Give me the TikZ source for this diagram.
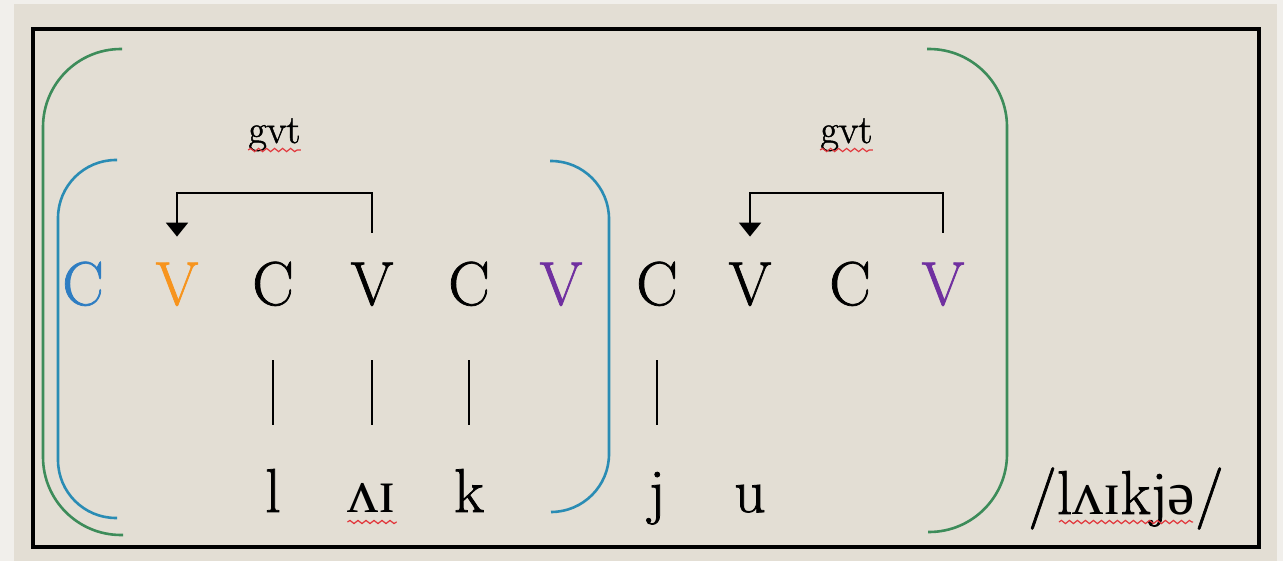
\documentclass[tikz,border=0pt]{standalone}
\usepackage{fontspec}
\newfontfamily\segfont{Latin Modern Roman}[FakeBold=1.2]
\newfontfamily\ipafont{Liberation Serif}
\usetikzlibrary{calc}
\usetikzlibrary{arrows.meta}
\usetikzlibrary{decorations.pathmorphing}
\usepackage{xcolor}
\definecolor{paper}{RGB}{227,222,212}
\definecolor{rim}{RGB}{241,239,235}
\definecolor{sylgreen}{RGB}{61,140,90}
\definecolor{sylblue}{RGB}{42,140,180}
\definecolor{cblue}{RGB}{46,125,194}
\definecolor{vorange}{RGB}{247,148,29}
\definecolor{vpurple}{RGB}{112,48,160}
\definecolor{spell}{RGB}{225,55,60}
\tikzset{
  seg/.style={font=\segfont\fontsize{31}{37}\selectfont, inner sep=0, anchor=base, text height=21.2pt, text depth=0pt},
  lowseg/.style={seg, text height=21.5pt},
  gvtlabel/.style={font=\segfont\fontsize{20}{24}\selectfont, inner sep=0, anchor=base},
  bar/.style={line width=1pt, shorten <=27.5pt, shorten >=22pt},
  harm/.style={line width=1pt, -{Triangle[width=11pt,length=7pt]}},
  sylbr/.style={line width=1.3pt, rounded corners=#1},
  squig/.style={spell, line width=.6pt, decorate, decoration={snake, amplitude=.8pt, segment length=4pt}}
}

\begin{document}
\begin{tikzpicture}[x=.5pt,y=-.5pt]
\useasboundingbox (0,0) rectangle (1283,561);
\fill[rim] (0,0) rectangle (1283,561);
\fill[paper] (14,4) rectangle (1277,561);
\draw[line width=1.8pt] (33,29) rectangle (1259,547);
% syllable brackets
\draw[sylgreen, sylbr=39pt] (122,49) -| (43,535) -- (123,535);
\draw[sylgreen, sylbr=39pt] (927,49) -| (1007,532) -- (928,532);
\draw[sylblue, sylbr=29pt] (117,160) -| (58,518) -- (117,518);
\draw[sylblue, sylbr=29pt] (550,161) -| (609,512) -- (551,512);
% skeleton
\foreach \n/\x/\t/\c in {c1/83/C/cblue, v1/177/V/vorange, c2/273/C/black, v2/372/V/black, c3/469/C/black, v3/561/V/vpurple, c4/657/C/black, v4/750/V/black, c5/850/C/black, v5/943/V/vpurple}
  \node[seg, text=\c] (\n) at (\x,305) {\t};
\foreach \n/\a/\t in {l/c2/l, ai/v2/{\ipafont ʌɪ}, k/c3/k, j/c4/j, u/v4/u}
  \node[lowseg] (\n) at ($(\a.base)+(0,207)$) {\t};
\foreach \a/\b in {c2/l, v2/ai, c3/k, c4/j}
  \draw[bar] (\a.south) -- (\b.north);
% government
\draw[harm] ([yshift=14.8pt]v2.north) |- ([yshift=34.8pt]v1.north) -- ([yshift=12.8pt]v1.north);
\draw[harm] ([yshift=14.8pt]v5.north) |- ([yshift=34.8pt]v4.north) -- ([yshift=12.8pt]v4.north);
\node[gvtlabel] (g1) at ($(v1.base)!.5!(v2.base)+(0,-162)$) {gvt};
\node[gvtlabel] (g2) at ($(v4.base)!.5!(v5.base)+(0,-162)$) {gvt};
\node[seg] (word) at (1126,514) {/l{\ipafont ʌɪ}kj{\ipafont ə}/};
\draw[squig] ([yshift=-3.5pt]g1.base west) -- ([yshift=-3.5pt]g1.base east);
\draw[squig] ([yshift=-3.5pt]g2.base west) -- ([yshift=-3.5pt]g2.base east);
\draw[squig] ([yshift=-5pt]ai.base west) -- ([yshift=-5pt]ai.base east);
\draw[squig] ([xshift=15.5pt,yshift=-4pt]word.base west) -- ([xshift=-15.5pt,yshift=-4pt]word.base east);
\end{tikzpicture}
\end{document}
